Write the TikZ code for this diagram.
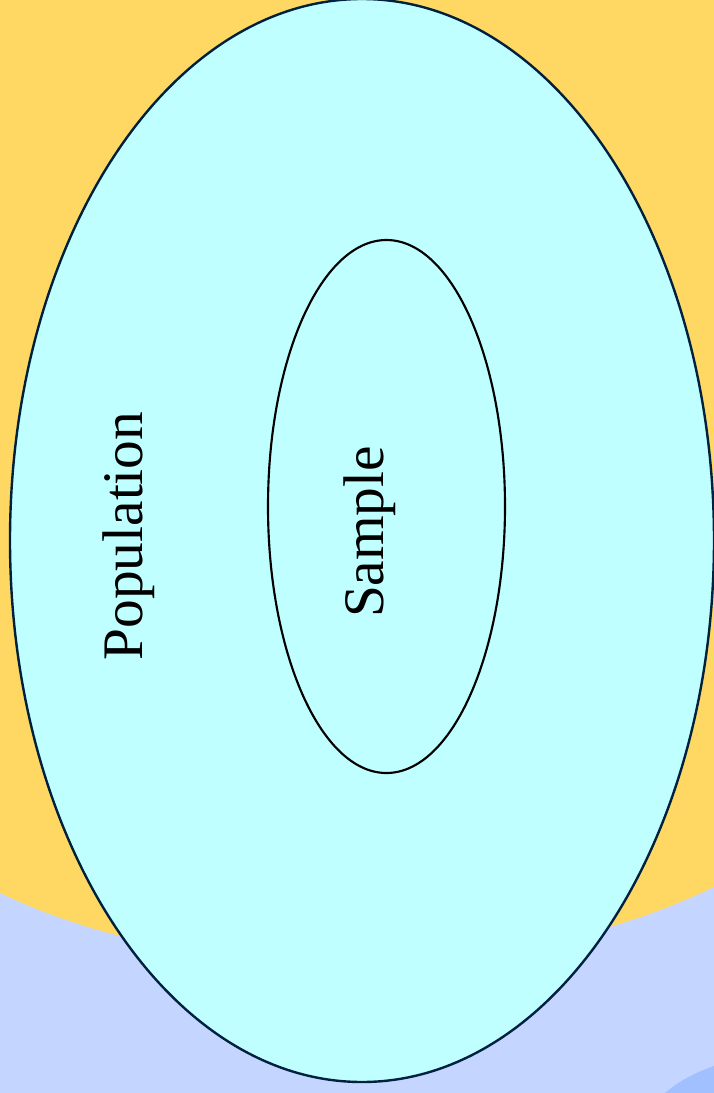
\documentclass[tikz,border=0pt]{standalone}
\usepackage{fontspec}
\setmainfont{Liberation Serif}
\usepackage{tikz}

\definecolor{bgorange}{RGB}{255,216,100}
\definecolor{bgblue}{RGB}{196,214,255}
\definecolor{solidblue}{RGB}{160,192,255}
\definecolor{popcyan}{RGB}{192,255,255}
\definecolor{rimnavy}{RGB}{0,32,64}

\begin{document}
\begin{tikzpicture}[x=0.75pt, y=-0.75pt,
  label text/.style={rotate=90, anchor=base, font=\fontsize{43}{43}\selectfont}]
\useasboundingbox (0,0) rectangle (714,1093);
\fill[bgorange] (0,0) rectangle (714,1093);
\fill[bgblue] (0,893) .. controls (200,990) and (514,985) .. (714,887) -- (714,1093) -- (0,1093) -- cycle;
\fill[solidblue] (665,1093) .. controls (680,1080) and (697,1072) .. (714,1066) -- (714,1093) -- cycle;
\draw[rimnavy, line width=1.8pt, fill=popcyan] (362,540.5) ellipse [x radius=352, y radius=541.5];
\draw[black, line width=1.6pt] (386.5,506.5) ellipse [x radius=118.5, y radius=266.5];
\node[label text] (population) at (142,536) {Population};
\node[label text] (sample) at (383,532) {Sample};
\end{tikzpicture}
\end{document}
